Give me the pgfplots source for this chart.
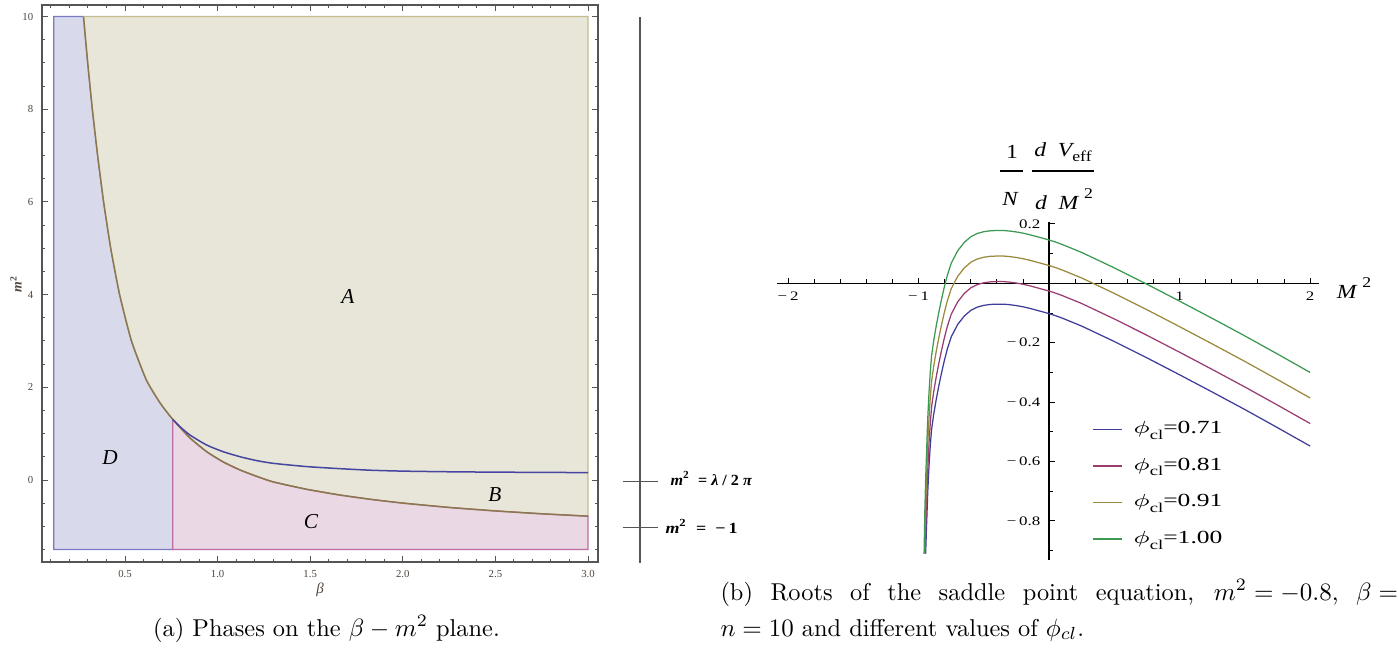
\documentclass[border=0pt]{standalone}
\usepackage{fontspec}
\usepackage{pgfplots}
\pgfplotsset{compat=1.18}
\newfontfamily\tms{Liberation Serif}
\definecolor{fillD}{RGB}{217,217,236}
\definecolor{fillA}{RGB}{232,230,216}
\definecolor{fillC}{RGB}{234,216,228}
\definecolor{edgeD}{RGB}{122,122,196}
\definecolor{edgeA}{RGB}{196,188,140}
\definecolor{edgeC}{RGB}{186,110,164}
\definecolor{curveB}{RGB}{140,120,80}
\definecolor{curveBl}{RGB}{70,70,160}
\definecolor{frameC}{RGB}{85,85,85}
\definecolor{tickC}{RGB}{80,70,60}
\definecolor{mBlue}{RGB}{62,61,153}
\definecolor{mMag}{RGB}{153,61,113}
\definecolor{mGold}{RGB}{153,138,61}
\definecolor{mGreen}{RGB}{61,153,81}
\newcommand{\sx}[1]{\scalebox{1.3}[1]{#1}}
\newcommand{\legtxt}[1]{\hspace{2.6pt}\scalebox{1.38}[1]{$\phi$\raisebox{-0.3em}{\fontsize{5.4}{6}\selectfont cl}=#1}}
\begin{document}
\begin{tikzpicture}[x=0.4pt,y=0.4pt]
\useasboundingbox (0,0) rectangle (1398,648);
\coordinate (LSW) at (42,86);
\coordinate (RSW) at (777,88.5);
% ---------------- left panel ----------------
\begin{axis}[
  at={(LSW)}, anchor=south west, scale only axis,
  width=222.4pt, height=222.8pt,
  xmin=0.0518, xmax=3.054, ymin=-1.769, ymax=10.25,
  axis line style={draw=frameC, line width=0.5pt},
  xtick={0.5,1,1.5,2,2.5,3}, xticklabels={0.5,1.0,1.5,2.0,2.5,3.0},
  ytick={0,2,4,6,8,10}, yticklabels={0,2,4,6,8,10},
  minor xtick={0.1,0.2,0.3,0.4,0.6,0.7,0.8,0.9,1.1,1.2,1.3,1.4,1.6,1.7,1.8,1.9,2.1,2.2,2.3,2.4,2.6,2.7,2.8,2.9},
  minor ytick={-1.5,-1,-0.5,0.5,1,1.5,2.5,3,3.5,4.5,5,5.5,6.5,7,7.5,8.5,9,9.5},
  tick align=inside, major tick length=2.4pt, minor tick length=1.3pt,
  every tick/.style={frameC, line width=0.4pt},
  ticklabel style={font=\tms\fontsize{4.3}{5}\selectfont, text=tickC},
]
\addplot[fill=fillD, draw=edgeD, line width=0.5pt] coordinates {
(0.115,-1.5) (0.115,10) (0.276,10) (0.2987,9) (0.3237,8) (0.3523,7) (0.3846,6) (0.423,5) (0.471,4) (0.535,3) (0.615,2.16) (0.69,1.66) (0.7575,1.31) (0.7575,-1.5)} -- cycle;
\addplot[fill=fillA, draw=edgeA, line width=0.5pt] coordinates {
(0.276,10) (3,10) (3,-0.78) (2.75,-0.729) (2.5,-0.667) (2.25,-0.592) (2.0,-0.498) (1.83,-0.419) (1.66,-0.324) (1.48,-0.200) (1.30,-0.041) (1.21,0.08) (1.121,0.216) (1.03,0.39) (0.941,0.61) (0.85,0.91) (0.7575,1.31) (0.69,1.66) (0.615,2.16) (0.535,3) (0.471,4) (0.423,5) (0.3846,6) (0.3523,7) (0.3237,8) (0.2987,9)} -- cycle;
\addplot[fill=fillC, draw=edgeC, line width=0.5pt] coordinates {
(0.7575,-1.5) (0.7575,1.31) (0.85,0.91) (0.941,0.61) (1.03,0.39) (1.121,0.216) (1.21,0.08) (1.30,-0.041) (1.48,-0.200) (1.66,-0.324) (1.83,-0.419) (2.0,-0.498) (2.25,-0.592) (2.5,-0.667) (2.75,-0.729) (3.0,-0.78) (3.0,-1.5)} -- cycle;
\addplot[curveB, line width=0.6pt, smooth, tension=0.4] coordinates {
(0.276,10) (0.2987,9) (0.3237,8) (0.3523,7) (0.3846,6) (0.423,5) (0.471,4) (0.535,3) (0.615,2.16) (0.69,1.66) (0.7575,1.31) (0.85,0.91) (0.941,0.61) (1.03,0.39) (1.121,0.216) (1.21,0.08) (1.30,-0.041) (1.48,-0.200) (1.66,-0.324) (1.83,-0.419) (2.0,-0.498) (2.25,-0.592) (2.5,-0.667) (2.75,-0.729) (3.0,-0.78)};
\addplot[curveBl, line width=0.6pt, smooth, tension=0.4] coordinates {
(0.7575,1.31) (0.80,1.14) (0.851,0.97) (0.941,0.755) (1.031,0.61) (1.121,0.503) (1.21,0.42) (1.301,0.36) (1.481,0.29) (1.661,0.245) (1.83,0.211) (2.0,0.192) (2.25,0.178) (2.5,0.17) (2.75,0.165) (3.0,0.16)};
\node[font=\tms\itshape\fontsize{8.5}{9}\selectfont] at (axis cs:1.704,3.97) {A};
\node[font=\tms\itshape\fontsize{8.5}{9}\selectfont] at (axis cs:2.497,-0.324) {B};
\node[font=\tms\itshape\fontsize{8.5}{9}\selectfont] at (axis cs:1.504,-0.906) {C};
\node[font=\tms\itshape\fontsize{8.5}{9}\selectfont] at (axis cs:0.419,0.475) {D};
\end{axis}
\node[font=\tms\itshape\fontsize{6}{7}\selectfont, text=tickC] at (320,58) {β};
\node[font=\tms\bfseries\itshape\fontsize{5.5}{6}\selectfont, text=tickC, rotate=90] at (16,364) {m\textsuperscript{\upshape 2}};
% annotation line
\draw[frameC, line width=0.6pt] (640,630.7) -- (640,85);
\draw[frameC, line width=0.6pt] (622.7,166.3) -- (658.3,166.3);
\draw[frameC, line width=0.6pt] (622.7,120.3) -- (658.3,120.3);
\node[anchor=base west, inner sep=0pt, font=\tms\bfseries\fontsize{6.2}{7}\selectfont] at (670,163) {\scalebox{1.04}[1]{\itshape m\textsuperscript{\upshape 2}\ \ \upshape = \itshape λ\upshape\ /\ 2\ \itshape π}};
\node[anchor=base west, inner sep=0pt, font=\tms\bfseries\fontsize{6.2}{7}\selectfont] at (665,115) {\scalebox{1.16}[1]{\itshape m\textsuperscript{\upshape 2}\ \ \upshape = \ −\,1}};
% ---------------- right panel ----------------
\begin{axis}[
  at={(RSW)}, anchor=south west, scale only axis,
  width=216.9pt, height=134.8pt,
  xmin=-2.085, xmax=2.07, ymin=-0.93, ymax=0.205,
  axis lines=middle, axis line style={black, line width=0.5pt, -},
  xtick={-2,-1,1,2}, xticklabels={\sx{−\,2},\sx{−\,1},\sx{1},\sx{2}},
  ytick={-0.8,-0.6,-0.4,-0.2,0.2}, yticklabels={\sx{−\,0.8},\sx{−\,0.6},\sx{−\,0.4},\sx{−\,0.2},\sx{0.2}},
  minor xtick={-1.8,-1.6,-1.4,-1.2,-0.8,-0.6,-0.4,-0.2,0.2,0.4,0.6,0.8,1.2,1.4,1.6,1.8},
  minor ytick={-0.9,-0.7,-0.5,-0.3,-0.1,0.1},
  tick align=inside, major tick length=2.2pt, minor tick length=1.6pt,
  every tick/.style={black, line width=0.4pt},
  ticklabel style={font=\tms\fontsize{5.2}{6}\selectfont},
  legend style={at={(0.581,0.422)}, anchor=north west, draw=none, fill=none,
     font=\tms\fontsize{7.4}{8}\selectfont, row sep=5.2pt, inner sep=0pt,
     nodes={inner sep=1.5pt}},
  legend cell align=left,
  legend image code/.code={\draw[#1, line width=0.6pt] (0pt,0pt) -- (11.6pt,0pt);},
]
\addplot[draw=mBlue, line width=0.5pt] coordinates {
(-0.9461,-0.910) (-0.940,-0.828) (-0.930,-0.703) (-0.920,-0.613) (-0.910,-0.543) (-0.900,-0.490) (-0.885,-0.443) (-0.865,-0.391) (-0.845,-0.345) (-0.825,-0.303) (-0.805,-0.264) (-0.780,-0.221) (-0.750,-0.180) (-0.700,-0.138) (-0.650,-0.110) (-0.600,-0.091) (-0.550,-0.080) (-0.500,-0.074) (-0.450,-0.071) (-0.400,-0.070) (-0.350,-0.070) (-0.300,-0.072) (-0.250,-0.075) (-0.200,-0.079) (-0.150,-0.084) (-0.100,-0.090) (-0.050,-0.096) (0.000,-0.102) (0.050,-0.109) (0.100,-0.117) (0.250,-0.144) (0.500,-0.196) (0.750,-0.251) (1.000,-0.308) (1.250,-0.366) (1.500,-0.425) (1.750,-0.486) (2.000,-0.548)};
\addlegendentry{\legtxt{0.71}}
\addplot[draw=mMag, line width=0.5pt] coordinates {
(-0.9507,-0.910) (-0.946,-0.832) (-0.940,-0.752) (-0.930,-0.627) (-0.920,-0.537) (-0.910,-0.467) (-0.900,-0.414) (-0.885,-0.367) (-0.865,-0.315) (-0.845,-0.269) (-0.825,-0.227) (-0.805,-0.188) (-0.780,-0.145) (-0.750,-0.104) (-0.700,-0.062) (-0.650,-0.034) (-0.600,-0.015) (-0.550,-0.004) (-0.500,0.002) (-0.450,0.005) (-0.400,0.006) (-0.350,0.006) (-0.300,0.004) (-0.250,0.001) (-0.200,-0.003) (-0.150,-0.008) (-0.100,-0.014) (-0.050,-0.020) (0.000,-0.026) (0.050,-0.033) (0.100,-0.041) (0.250,-0.068) (0.500,-0.120) (0.750,-0.175) (1.000,-0.232) (1.250,-0.290) (1.500,-0.349) (1.750,-0.410) (2.000,-0.472)};
\addlegendentry{\legtxt{0.81}}
\addplot[draw=mGold, line width=0.5pt] coordinates {
(-0.9546,-0.910) (-0.952,-0.846) (-0.946,-0.746) (-0.940,-0.666) (-0.930,-0.541) (-0.920,-0.451) (-0.910,-0.381) (-0.900,-0.328) (-0.885,-0.281) (-0.865,-0.229) (-0.845,-0.183) (-0.825,-0.141) (-0.805,-0.102) (-0.780,-0.059) (-0.750,-0.018) (-0.700,0.024) (-0.650,0.052) (-0.600,0.071) (-0.550,0.082) (-0.500,0.088) (-0.450,0.091) (-0.400,0.092) (-0.350,0.092) (-0.300,0.090) (-0.250,0.087) (-0.200,0.083) (-0.150,0.078) (-0.100,0.072) (-0.050,0.066) (0.000,0.060) (0.050,0.053) (0.100,0.045) (0.250,0.018) (0.500,-0.034) (0.750,-0.089) (1.000,-0.146) (1.250,-0.204) (1.500,-0.263) (1.750,-0.324) (2.000,-0.386)};
\addlegendentry{\legtxt{0.91}}
\addplot[draw=mGreen, line width=0.5pt] coordinates {
(-0.958,-0.910) (-0.952,-0.760) (-0.946,-0.660) (-0.940,-0.580) (-0.930,-0.455) (-0.920,-0.365) (-0.910,-0.295) (-0.900,-0.242) (-0.885,-0.195) (-0.865,-0.143) (-0.845,-0.097) (-0.825,-0.055) (-0.805,-0.016) (-0.780,0.027) (-0.750,0.068) (-0.700,0.110) (-0.650,0.138) (-0.600,0.157) (-0.550,0.168) (-0.500,0.174) (-0.450,0.177) (-0.400,0.178) (-0.350,0.178) (-0.300,0.176) (-0.250,0.173) (-0.200,0.169) (-0.150,0.164) (-0.100,0.158) (-0.050,0.152) (0.000,0.146) (0.050,0.139) (0.100,0.131) (0.250,0.104) (0.500,0.052) (0.750,-0.003) (1.000,-0.060) (1.250,-0.118) (1.500,-0.177) (1.750,-0.238) (2.000,-0.300)};
\addlegendentry{\legtxt{1.00}}
\end{axis}
% right-panel axis labels
\node[font=\tms\fontsize{8}{9}\selectfont] at (1012,496) {\scalebox{1.15}[1]{1}};
\node[font=\tms\itshape\fontsize{8}{9}\selectfont] at (1010,449) {\scalebox{1.15}[1]{N}};
\draw[line width=0.9pt] (1000,477.3) -- (1023,477.3);
\draw[line width=0.9pt] (1032,477.3) -- (1094,477.3);
\node[font=\tms\fontsize{8}{9}\selectfont] at (1063,496) {\scalebox{1.18}[1]{\itshape d\ \ V\upshape\raisebox{-0.25em}{\fontsize{6}{7}\selectfont eff}}};
\node[font=\tms\fontsize{8}{9}\selectfont] at (1064,449) {\scalebox{1.18}[1]{\itshape d\ \ M\ \upshape\raisebox{0.55em}{\fontsize{6}{7}\selectfont 2}}};
\node[font=\tms\fontsize{8}{9}\selectfont] at (1354,360) {\scalebox{1.18}[1]{\itshape M\ \upshape\raisebox{0.55em}{\fontsize{6}{7}\selectfont 2}}};
% captions
\node[anchor=base, inner sep=0pt, font=\fontsize{9.75}{12}\selectfont] at (326.5,12) {(a) Phases on the $\beta - m^2$ plane.};
\node[anchor=base west, inner sep=0pt, font=\fontsize{9.75}{12}\selectfont] at (720,48) {\makebox[271pt][s]{(b) Roots of the saddle point equation, \mbox{$m^2 = -0.8$,} \mbox{$\beta =$}}};
\node[anchor=base west, inner sep=0pt, font=\fontsize{9.75}{12}\selectfont] at (720,12) {$n = 10$ and different values of $\phi_{cl}$.};
\end{tikzpicture}
\end{document}
